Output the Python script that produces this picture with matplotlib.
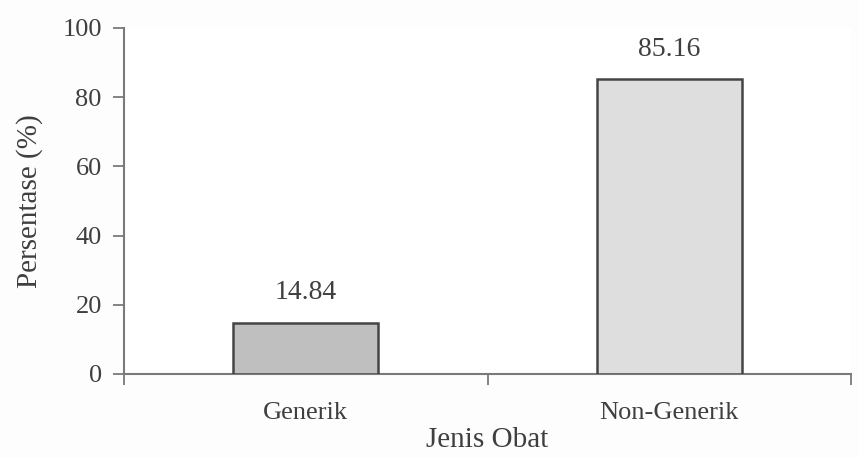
import matplotlib
matplotlib.use("Agg")
import matplotlib.pyplot as plt

categories = ["Generik", "Non-Generik"]
values = [14.84, 85.16]
bar_colors = ["#bfbfbf", "#dedede"]
yticks = [0, 20, 40, 60, 80, 100]

plt.rcParams["font.family"] = ["Liberation Serif", "DejaVu Serif"]
text_color = "#3f3f3f"
axis_color = "#7a7a7a"

fig = plt.figure(figsize=(8.59, 4.58), dpi=100)
ax = fig.add_axes([124 / 859, 1 - 374 / 458, (851 - 124) / 859, (374 - 28) / 458])

x = list(range(len(categories)))
bars = ax.bar(x, values, width=0.4, color=bar_colors, edgecolor="#454545", linewidth=1.8, zorder=3)

for xi, v in zip(x, values):
    ax.annotate(f"{v:.2f}", (xi, v), xytext=(0, 17), textcoords="offset points",
                ha="center", va="baseline", fontsize=20, color=text_color)

ax.set_xlim(-0.5, len(categories) - 0.5)
ax.set_ylim(0, 100)
ax.set_yticks(yticks)
ax.set_yticklabels([str(t) for t in yticks])

# category separators as minor ticks on the x axis
ax.set_xticks(x)
ax.set_xticklabels(categories)
ax.set_xticks([-0.5, 0.5, 1.5], minor=True)
ax.tick_params(axis="x", which="major", length=0, pad=20, labelsize=19, labelcolor=text_color)
ax.tick_params(axis="x", which="minor", length=8, width=1.3, color=axis_color, direction="out")
ax.tick_params(axis="y", length=8, width=1.3, color=axis_color, direction="out",
               labelsize=19, labelcolor=text_color, pad=8)

for side in ("top", "right"):
    ax.spines[side].set_visible(False)
for side in ("left", "bottom"):
    ax.spines[side].set_color(axis_color)
    ax.spines[side].set_linewidth(1.5)

ax.set_ylabel("Persentase (%)", fontsize=21, color=text_color, labelpad=14)
ax.set_xlabel("Jenis Obat", fontsize=21, color=text_color, labelpad=2)

fig.savefig("out.png", dpi=100, facecolor="#fdfdfd")
